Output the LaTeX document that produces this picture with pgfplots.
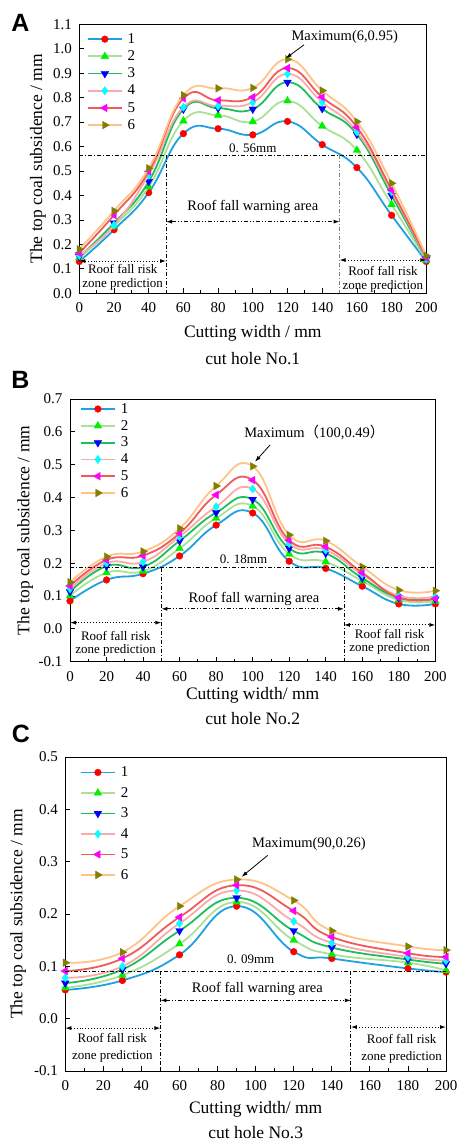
\documentclass[border=0pt]{standalone}
\usepackage{fontspec}
\setmainfont{Liberation Serif}
\setsansfont{Liberation Sans}
\newfontfamily\cjk{Noto Sans CJK SC}
\usepackage{pgfplots}
\pgfplotsset{compat=1.18}
\usetikzlibrary{arrows.meta}

\definecolor{c1}{RGB}{30,160,225}
\definecolor{c2}{RGB}{170,225,150}
\definecolor{c3}{RGB}{30,190,90}
\definecolor{c4}{RGB}{250,170,170}
\definecolor{c5}{RGB}{240,90,90}
\definecolor{c6}{RGB}{255,195,135}
\definecolor{m1}{RGB}{255,0,0}
\definecolor{m2}{RGB}{0,240,0}
\definecolor{m3}{RGB}{0,0,255}
\definecolor{m4}{RGB}{0,255,255}
\definecolor{m5}{RGB}{255,0,255}
\definecolor{m6}{RGB}{128,128,0}

\def\tickfont{\fontsize{15}{17}\selectfont}
\def\labfont{\fontsize{17.5}{21}\selectfont}
\def\annfont{\fontsize{13}{15}\selectfont}
\def\warnfont{\fontsize{14.5}{17}\selectfont}

\tikzset{
  ln/.style={line width=1.8pt, smooth, tension=0.8},
  s1/.style={ln, c1, mark=*, mark size=3.4pt, mark options={solid, fill=m1, draw=m1, line width=0.3pt}},
  s2/.style={ln, c2, mark=triangle*, mark size=4.5pt, mark options={solid, fill=m2, draw=m2, line width=0.3pt}},
  s3/.style={ln, c3, mark=triangle*, mark size=4.5pt, mark options={solid, rotate=180, fill=m3, draw=m3, line width=0.3pt}},
  s4/.style={ln, c4, mark=diamond*, mark size=4.2pt, mark options={solid, fill=m4, draw=m4, line width=0.3pt}},
  s5/.style={ln, c5, mark=triangle*, mark size=4.5pt, mark options={solid, rotate=90, fill=m5, draw=m5, line width=0.3pt}},
  s6/.style={ln, c6, mark=triangle*, mark size=4.5pt, mark options={solid, rotate=-90, fill=m6, draw=m6, line width=0.3pt}},
  hl/.style={dash pattern=on 4pt off 2pt on 1pt off 2pt, line width=0.8pt},
  wa/.style={dash pattern=on 4pt off 2pt on 1pt off 2pt on 1pt off 2pt, line width=0.9pt, {Latex[length=6pt,width=4pt]}-{Latex[length=6pt,width=4pt]}},
  za/.style={dotted, line width=0.9pt, {Latex[length=6pt,width=4pt]}-{Latex[length=6pt,width=4pt]}},
  mx/.style={line width=0.8pt, -{Latex[length=6pt,width=4pt]}},
}

\pgfplotsset{
  panel/.style={
    scale only axis,
    clip mode=individual,
    xmin=0, xmax=200,
    xtick={0,20,40,60,80,100,120,140,160,180,200},
    minor x tick num=1,
    tick align=inside,
    xtick pos=left, ytick pos=left,
    axis line style={line width=1pt},
    every tick/.style={black, line width=0.8pt},
    major tick length=5pt, minor tick length=3pt,
    tick label style={font=\tickfont},
    /pgf/number format/assume math mode=true,
    xticklabel style={yshift=-6pt},
    yticklabel style={xshift=-4pt, /pgf/number format/.cd, fixed, fixed zerofill, precision=1},
    label style={font=\labfont},
    legend style={draw=none, fill=none, inner sep=0pt, outer sep=0pt,
      font=\tickfont, nodes={inner sep=0pt}, column sep=5pt, anchor=north west},
    legend cell align=left,
    legend image code/.code={\draw[mark repeat=2, mark phase=2, ##1] plot coordinates {(0pt,0pt) (17pt,0pt) (34pt,0pt)};},
  },
}

\begin{document}
\begin{tikzpicture}

% ---------------- A ----------------
\begin{axis}[panel,
  at={(79.3pt,-293.3pt)}, anchor=south west,
  width=347pt, height=269pt,
  ymin=0, ymax=1.1, ytick={0,0.1,0.2,0.3,0.4,0.5,0.6,0.7,0.8,0.9,1.0,1.1},
  xlabel={Cutting width / mm},
  xlabel style={at={(axis description cs:0.5,-0.149)}, anchor=center},
  ylabel={The top coal subsidence / mm},
  ylabel style={at={(axis description cs:-0.119,0.5)}, anchor=center},
  legend style={at={(axis description cs:0.022,0.966)}, row sep=5.8pt},
]
\addplot[s1] coordinates {(0,0.13)(20,0.26)(40,0.412)(60,0.653)(80,0.673)(100,0.648)(120,0.703)(140,0.608)(160,0.514)(180,0.319)(200,0.13)};
\addplot[s2] coordinates {(0,0.145)(20,0.275)(40,0.436)(60,0.705)(80,0.728)(100,0.702)(120,0.787)(140,0.684)(160,0.585)(180,0.363)(200,0.135)};
\addplot[s3] coordinates {(0,0.15)(20,0.287)(40,0.457)(60,0.753)(80,0.757)(100,0.753)(120,0.863)(140,0.755)(160,0.65)(180,0.40)(200,0.14)};
\addplot[s4] coordinates {(0,0.155)(20,0.278)(40,0.485)(60,0.761)(80,0.766)(100,0.781)(120,0.897)(140,0.781)(160,0.66)(180,0.416)(200,0.14)};
\addplot[s5] coordinates {(0,0.165)(20,0.32)(40,0.498)(60,0.797)(80,0.789)(100,0.802)(120,0.921)(140,0.802)(160,0.679)(180,0.423)(200,0.145)};
\addplot[s6] coordinates {(0,0.18)(20,0.337)(40,0.511)(60,0.81)(80,0.838)(100,0.84)(120,0.957)(140,0.829)(160,0.702)(180,0.45)(200,0.153)};
\legend{1,2,3,4,5,6}
\draw[hl] (axis cs:0,0.565) -- (axis cs:200,0.565);
\node[font=\annfont] at (axis cs:100,0.593) {0. 56mm};
\draw[hl] (axis cs:50,0.565) -- (axis cs:50,0);
\draw[hl, gray] (axis cs:150,0.565) -- (axis cs:150,0);
\draw[wa] (axis cs:50,0.293) -- (axis cs:150,0.293);
\node[font=\warnfont] at (axis cs:100,0.352) {Roof fall warning area};
\draw[za] (axis cs:0,0.132) -- (axis cs:50,0.132);
\node[font=\annfont] at (axis cs:25,0.10) {Roof fall risk};
\node[font=\annfont] at (axis cs:25,0.037) {zone prediction};
\draw[za] (axis cs:150,0.136) -- (axis cs:200,0.136);
\node[font=\annfont] at (axis cs:175,0.093) {Roof fall risk};
\node[font=\annfont] at (axis cs:175,0.027) {zone prediction};
\node[font=\warnfont] at (axis cs:153,1.047) {Maximum(6,0.95)};
\draw[mx] (axis cs:129.5,1.016) -- (axis cs:119,0.961);
\node[font=\labfont, inner sep=0pt] at (axis description cs:0.5,-0.242) {cut hole No.1};
\end{axis}

% ---------------- B ----------------
\begin{axis}[panel,
  at={(70pt,-661.7pt)}, anchor=south west,
  width=365.3pt, height=262.7pt,
  ymin=-0.1, ymax=0.7, ytick={-0.1,0,0.1,0.2,0.3,0.4,0.5,0.6,0.7},
  xlabel={Cutting width/ mm},
  xlabel style={at={(axis description cs:0.5,-0.127)}, anchor=center},
  ylabel={The top coal subsidence / mm},
  ylabel style={at={(axis description cs:-0.123,0.5)}, anchor=center},
  legend style={at={(axis description cs:0.0274,0.9836)}, row sep=5.4pt},
]
\addplot[s1] coordinates {(0,0.085)(20,0.149)(40,0.168)(60,0.222)(80,0.316)(100,0.353)(120,0.206)(140,0.184)(160,0.130)(180,0.076)(200,0.076)};
\addplot[s2] coordinates {(0,0.101)(20,0.171)(40,0.176)(60,0.245)(80,0.337)(100,0.374)(120,0.228)(140,0.204)(160,0.146)(180,0.088)(200,0.084)};
\addplot[s3] coordinates {(0,0.113)(20,0.191)(40,0.189)(60,0.268)(80,0.354)(100,0.394)(120,0.245)(140,0.230)(160,0.155)(180,0.095)(200,0.091)};
\addplot[s4] coordinates {(0,0.122)(20,0.20)(40,0.204)(60,0.281)(80,0.372)(100,0.426)(120,0.26)(140,0.24)(160,0.166)(180,0.101)(200,0.098)};
\addplot[s5] coordinates {(0,0.131)(20,0.21)(40,0.223)(60,0.291)(80,0.408)(100,0.453)(120,0.27)(140,0.25)(160,0.171)(180,0.095)(200,0.092)};
\addplot[s6] coordinates {(0,0.142)(20,0.22)(40,0.236)(60,0.306)(80,0.435)(100,0.495)(120,0.286)(140,0.268)(160,0.189)(180,0.118)(200,0.116)};
\legend{1,2,3,4,5,6}
\draw[hl] (axis cs:0,0.186) -- (axis cs:200,0.186);
\node[font=\annfont] at (axis cs:95,0.212) {0. 18mm};
\draw[hl] (axis cs:50,0.186) -- (axis cs:50,-0.1);
\draw[hl] (axis cs:150,0.186) -- (axis cs:150,-0.1);
\draw[wa] (axis cs:50,0.061) -- (axis cs:150,0.061);
\node[font=\warnfont] at (axis cs:100.7,0.091) {Roof fall warning area};
\draw[za] (axis cs:0,0.019) -- (axis cs:50,0.019);
\node[font=\annfont] at (axis cs:25,-0.022) {Roof fall risk};
\node[font=\annfont] at (axis cs:25,-0.066) {zone prediction};
\draw[za] (axis cs:150,0.012) -- (axis cs:200,0.012);
\node[font=\annfont] at (axis cs:175,-0.016) {Roof fall risk};
\node[font=\annfont] at (axis cs:175,-0.06) {zone prediction};
\node[font=\warnfont] at (axis cs:133.8,0.598) {Maximum{\cjk （}100,0.49{\cjk ）}};
\draw[mx] (axis cs:109.5,0.56) -- (axis cs:101.3,0.509);
\node[font=\labfont, inner sep=0pt] at (axis description cs:0.5,-0.215) {cut hole No.2};
\end{axis}

% ---------------- C ----------------
\begin{axis}[panel,
  at={(65.3pt,-1071pt)}, anchor=south west,
  width=380.7pt, height=314pt,
  ymin=-0.1, ymax=0.5, ytick={-0.1,0,0.1,0.2,0.3,0.4,0.5},
  xlabel={Cutting width/ mm},
  xlabel style={at={(axis description cs:0.5,-0.121)}, anchor=center},
  ylabel={The top coal subsidence / mm},
  ylabel style={at={(axis description cs:-0.124,0.5)}, anchor=center},
  legend style={at={(axis description cs:0.0386,0.969)}, row sep=9.1pt},
]
\addplot[s1] coordinates {(0,0.055)(30,0.073)(60,0.122)(90,0.215)(120,0.128)(140,0.115)(180,0.096)(200,0.089)};
\addplot[s2] coordinates {(0,0.059)(30,0.083)(60,0.143)(90,0.223)(120,0.15)(140,0.123)(180,0.107)(200,0.092)};
\addplot[s3] coordinates {(0,0.068)(30,0.094)(60,0.168)(90,0.231)(120,0.168)(140,0.136)(180,0.113)(200,0.105)};
\addplot[s4] coordinates {(0,0.078)(30,0.10)(60,0.182)(90,0.245)(120,0.186)(140,0.145)(180,0.118)(200,0.111)};
\addplot[s5] coordinates {(0,0.091)(30,0.115)(60,0.194)(90,0.255)(120,0.206)(140,0.156)(180,0.125)(200,0.118)};
\addplot[s6] coordinates {(0,0.107)(30,0.127)(60,0.215)(90,0.266)(120,0.226)(140,0.168)(180,0.138)(200,0.131)};
\legend{1,2,3,4,5,6}
\draw[hl] (axis cs:0,0.091) -- (axis cs:200,0.091);
\node[font=\annfont] at (axis cs:97.4,0.113) {0. 09mm};
\draw[hl] (axis cs:50,0.091) -- (axis cs:50,-0.1);
\draw[hl] (axis cs:150,0.091) -- (axis cs:150,-0.1);
\draw[wa] (axis cs:50,0.035) -- (axis cs:150,0.035);
\node[font=\warnfont] at (axis cs:100.9,0.057) {Roof fall warning area};
\draw[za] (axis cs:0,-0.018) -- (axis cs:50,-0.018);
\node[font=\annfont] at (axis cs:24.7,-0.037) {Roof fall risk};
\node[font=\annfont] at (axis cs:24.7,-0.072) {zone prediction};
\draw[za] (axis cs:150,-0.016) -- (axis cs:200,-0.016);
\node[font=\annfont] at (axis cs:176.7,-0.039) {Roof fall risk};
\node[font=\annfont] at (axis cs:176.7,-0.074) {zone prediction};
\node[font=\warnfont] at (axis cs:128,0.334) {Maximum(90,0.26)};
\draw[mx] (axis cs:106.3,0.312) -- (axis cs:92.6,0.271);
\node[font=\labfont, inner sep=0pt] at (axis description cs:0.5,-0.196) {cut hole No.3};
\end{axis}

\node[font=\sffamily\bfseries\fontsize{25}{28}\selectfont] at (20.5pt,-22.5pt) {A};
\node[font=\sffamily\bfseries\fontsize{25}{28}\selectfont] at (20.5pt,-380pt) {B};
\node[font=\sffamily\bfseries\fontsize{25}{28}\selectfont] at (21pt,-733.5pt) {C};

\pgfresetboundingbox
\useasboundingbox (0,0) rectangle (459pt,-1142pt);
\end{tikzpicture}
\end{document}
